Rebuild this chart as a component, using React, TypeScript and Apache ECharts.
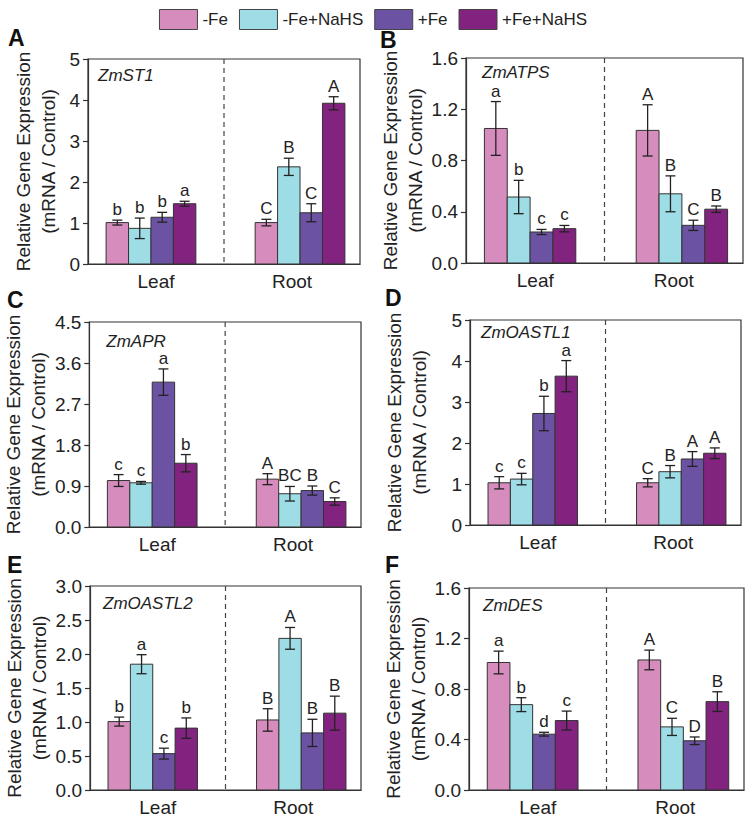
import React, { useEffect, useRef } from 'react';
import * as echarts from 'echarts';

const treatments = ['-Fe', '-Fe+NaHS', '+Fe', '+Fe+NaHS'];
const tissues = ['Leaf', 'Root'];
const genes = ['ZmST1', 'ZmATPS', 'ZmAPR', 'ZmOASTL1', 'ZmOASTL2', 'ZmDES'];
const panelLetters = ['A', 'B', 'C', 'D', 'E', 'F'];
const yMax = [5, 1.6, 4.5, 5, 3.0, 1.6];
const yInterval = [1, 0.4, 0.9, 1, 0.5, 0.4];
const yDecimals = [0, 1, 1, 0, 1, 1];

// [treatment][tissue]
const stMean = [[1.01, 1.01], [0.87, 2.37], [1.14, 1.25], [1.47, 3.92]];
const stErr = [[0.06, 0.08], [0.25, 0.21], [0.12, 0.22], [0.06, 0.16]];
const stLetters = [['b', 'C'], ['b', 'B'], ['b', 'C'], ['a', 'A']];

const atpsMean = [[1.05, 1.035], [0.515, 0.54], [0.242, 0.294], [0.268, 0.42]];
const atpsErr = [[0.21, 0.2], [0.13, 0.14], [0.02, 0.04], [0.025, 0.025]];
const atpsLetters = [['a', 'A'], ['b', 'B'], ['c', 'C'], ['c', 'B']];

const aprMean = [[1.02, 1.05], [0.97, 0.73], [3.18, 0.8], [1.4, 0.56]];
const aprErr = [[0.13, 0.12], [0.03, 0.16], [0.29, 0.1], [0.19, 0.08]];
const aprLetters = [['c', 'A'], ['c', 'BC'], ['a', 'B'], ['b', 'C']];

const oastl1Mean = [[1.03, 1.03], [1.12, 1.3], [2.72, 1.61], [3.63, 1.75]];
const oastl1Err = [[0.15, 0.1], [0.14, 0.15], [0.42, 0.18], [0.38, 0.13]];
const oastl1Letters = [['c', 'C'], ['c', 'B'], ['b', 'A'], ['a', 'A']];

const oastl2Mean = [[1.006, 1.03], [1.85, 2.23], [0.535, 0.84], [0.91, 1.13]];
const oastl2Err = [[0.066, 0.165], [0.14, 0.16], [0.08, 0.2], [0.15, 0.25]];
const oastl2Letters = [['b', 'B'], ['a', 'A'], ['c', 'B'], ['b', 'B']];

const desMean = [[1.01, 1.03], [0.676, 0.5], [0.442, 0.39], [0.55, 0.7]];
const desErr = [[0.09, 0.078], [0.055, 0.068], [0.015, 0.03], [0.075, 0.078]];
const desLetters = [['a', 'A'], ['b', 'C'], ['d', 'D'], ['c', 'B']];

const means = [stMean, atpsMean, aprMean, oastl1Mean, oastl2Mean, desMean];
const errs = [stErr, atpsErr, aprErr, oastl1Err, oastl2Err, desErr];
const letters = [stLetters, atpsLetters, aprLetters, oastl1Letters, oastl2Letters, desLetters];

// layout / style
const colors = ['#D68CBC', '#9EDCE6', '#6B52A3', '#82247F'];
const grids = [
  { left: 88, top: 59, width: 272, height: 205 },
  { left: 466, top: 58, width: 277, height: 205 },
  { left: 85, top: 322, width: 276, height: 205 },
  { left: 470, top: 320, width: 271, height: 205 },
  { left: 90, top: 586, width: 271, height: 206 },
  { left: 469, top: 588, width: 275, height: 205 },
];
const nameGaps = [27, 35, 29, 38, 34, 37];
const geneOffsets = [[10, 16], [16, 14], [17, 19], [11, 12], [13, 17], [14, 17]];
const letterPos = [[8, 38], [380, 40], [7, 300], [385, 298], [7, 565], [385, 565]];
const FONT = '"Liberation Sans", Arial, Helvetica, sans-serif';
const GROUP_FRAC = 0.66;
const SPREAD = 0.096;
const SHIFT = 1.5;
const INK = '#222';

function buildOption() {
  const series: any[] = [];
  const xAxis: any[] = [];
  const yAxis: any[] = [];
  const grid: any[] = [];
  const graphic: any[] = [];

  for (let p = 0; p < 6; p++) {
    grid.push({ ...grids[p], show: true, borderColor: '#333', borderWidth: 1.2, containLabel: false });
    xAxis.push({
      type: 'category', gridIndex: p, data: tissues,
      axisTick: { show: false },
      axisLine: { lineStyle: { color: '#333', width: 1.2 } },
      axisLabel: { fontSize: 19, color: INK, margin: 8, fontFamily: FONT },
    });
    const dec = yDecimals[p];
    yAxis.push({
      type: 'value', gridIndex: p, min: 0, max: yMax[p], interval: yInterval[p],
      splitLine: { show: false },
      axisLine: { show: true, lineStyle: { color: '#333', width: 1.2 } },
      axisTick: { show: true, length: 5, lineStyle: { color: '#333', width: 1.2 } },
      axisLabel: { fontSize: 19, color: INK, margin: 8, fontFamily: FONT, formatter: (v: number) => v.toFixed(dec) },
      name: 'Relative Gene Expression\n(mRNA / Control)',
      nameLocation: 'middle', nameRotate: 90, nameGap: nameGaps[p],
      nameTextStyle: { fontSize: 19, lineHeight: 25, color: INK, fontFamily: FONT },
    });

    for (let k = 0; k < 4; k++) {
      const data = tissues.map((_, i) => [i, means[p][k][i], errs[p][k][i]]);
      const lab = letters[p][k];
      series.push({
        type: 'custom', name: treatments[k], xAxisIndex: p, yAxisIndex: p,
        itemStyle: { color: colors[k] },
        encode: { x: 0, y: 1 },
        data,
        renderItem: (params: any, api: any) => {
          const cat = api.value(0);
          const v = api.value(1);
          const e = api.value(2);
          const band = api.size([1, 0])[0];
          const base = api.coord([cat, 0]);
          const groupC = base[0] + (cat - 0.5) * band * SPREAD + SHIFT;
          const bw = (band * GROUP_FRAC) / 4;
          const cx = groupC + (k - 1.5) * bw;
          const yTop = api.coord([cat, v])[1];
          const yHi = api.coord([cat, v + e])[1];
          const yLo = api.coord([cat, v - e])[1];
          const cap = 5;
          return {
            type: 'group',
            children: [
              { type: 'rect', shape: { x: cx - bw / 2, y: yTop, width: bw, height: base[1] - yTop }, style: { fill: colors[k], stroke: '#333', lineWidth: 1 } },
              { type: 'line', shape: { x1: cx, y1: yHi, x2: cx, y2: yLo }, style: { stroke: INK, lineWidth: 1.3 } },
              { type: 'line', shape: { x1: cx - cap, y1: yHi, x2: cx + cap, y2: yHi }, style: { stroke: INK, lineWidth: 1.3 } },
              { type: 'line', shape: { x1: cx - cap, y1: yLo, x2: cx + cap, y2: yLo }, style: { stroke: INK, lineWidth: 1.3 } },
              { type: 'text', x: cx, y: yHi - 2, style: { text: lab[params.dataIndex], fill: INK, fontSize: 17, fontFamily: FONT, align: 'center', verticalAlign: 'bottom' } },
            ],
          };
        },
      });
    }

    const gene = genes[p];
    const go = geneOffsets[p];
    series.push({
      type: 'custom', name: 'divider' + p, xAxisIndex: p, yAxisIndex: p,
      data: [[0, 0]], encode: { x: 0, y: 1 }, silent: true,
      renderItem: (params: any, api: any) => {
        const cs = params.coordSys;
        const x = (api.coord([0, 0])[0] + api.coord([1, 0])[0]) / 2;
        return {
          type: 'group',
          children: [
            { type: 'line', shape: { x1: x, y1: cs.y, x2: x, y2: cs.y + cs.height }, style: { stroke: '#444', lineWidth: 1.2, lineDash: [5, 4] } },
            { type: 'text', x: cs.x + go[0], y: cs.y + go[1], style: { text: gene, fill: INK, fontSize: 17, fontStyle: 'italic', fontFamily: FONT, align: 'left', verticalAlign: 'middle' } },
          ],
        };
      },
    });

    graphic.push({
      type: 'text', left: letterPos[p][0], top: letterPos[p][1] - 12,
      style: { text: panelLetters[p], fill: '#111', fontSize: 23, fontWeight: 'bold', fontFamily: FONT },
    });
  }

  return {
    animation: false,
    backgroundColor: '#fff',
    legend: {
      data: treatments,
      top: 4, left: 'center',
      icon: 'rect', itemWidth: 38, itemHeight: 20, itemGap: 11,
      itemStyle: { borderColor: '#444', borderWidth: 1 },
      textStyle: { fontSize: 17, color: INK, fontFamily: FONT },
      selectedMode: false,
    },
    grid, xAxis, yAxis, series, graphic,
  };
}

export default function App() {
  const ref = useRef<HTMLDivElement>(null);
  useEffect(() => {
    document.body.style.margin = '0';
    const chart = echarts.init(ref.current!, undefined, { renderer: 'svg' });
    chart.setOption(buildOption() as any);
    return () => chart.dispose();
  }, []);
  return <div ref={ref} style={{ width: 746, height: 817 }} />;
}
